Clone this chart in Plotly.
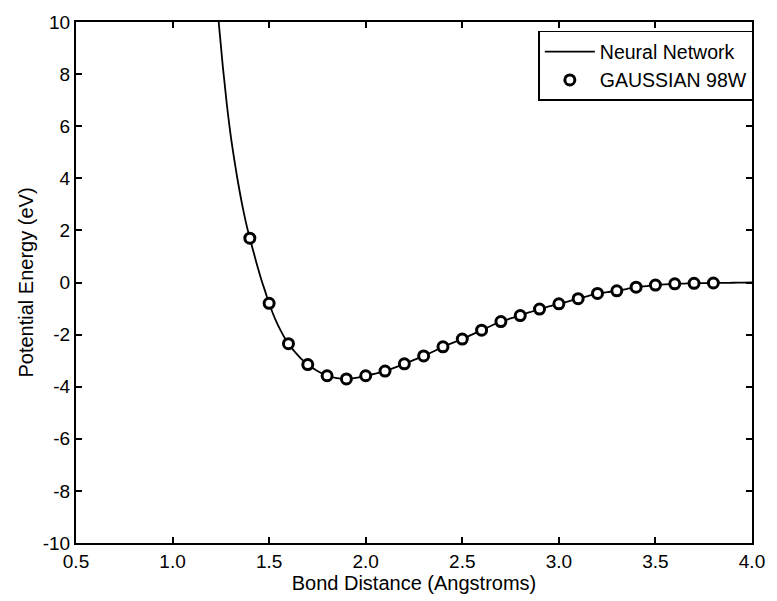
import plotly.graph_objects as go

# Neural network curve
nn_x = [1.22, 1.24, 1.26, 1.28, 1.30, 1.32, 1.34, 1.36, 1.38, 1.40,
        1.42, 1.44, 1.46, 1.48, 1.50, 1.52, 1.54, 1.56, 1.58, 1.60,
        1.62, 1.64, 1.66, 1.68, 1.70, 1.75, 1.80, 1.85, 1.90, 1.95,
        2.00, 2.05, 2.10, 2.15, 2.20, 2.25, 2.30, 2.35, 2.40, 2.45,
        2.50, 2.55, 2.60, 2.65, 2.70, 2.75, 2.80, 2.85, 2.90, 2.95,
        3.00, 3.05, 3.10, 3.15, 3.20, 3.25, 3.30, 3.35, 3.40, 3.45,
        3.50, 3.55, 3.60, 3.65, 3.70, 3.75, 3.80, 3.85, 3.90, 3.95, 4.00]
nn_y = [11.7, 9.9, 8.3, 6.9, 5.7, 4.7, 3.8, 3.0, 2.3, 1.7,
        1.15, 0.6, 0.1, -0.35, -0.8, -1.2, -1.55, -1.85, -2.12, -2.35,
        -2.55, -2.72, -2.88, -3.02, -3.15, -3.40, -3.58, -3.67, -3.70, -3.66,
        -3.58, -3.50, -3.40, -3.27, -3.12, -2.97, -2.82, -2.65, -2.47, -2.32,
        -2.17, -2.00, -1.83, -1.66, -1.50, -1.38, -1.27, -1.14, -1.02, -0.92,
        -0.82, -0.72, -0.62, -0.52, -0.42, -0.37, -0.32, -0.25, -0.18, -0.14,
        -0.10, -0.07, -0.05, -0.04, -0.03, -0.025, -0.02, -0.015, -0.01, -0.005, 0.0]

# GAUSSIAN 98W points
g_x = [1.4, 1.5, 1.6, 1.7, 1.8, 1.9, 2.0, 2.1, 2.2, 2.3, 2.4, 2.5, 2.6,
       2.7, 2.8, 2.9, 3.0, 3.1, 3.2, 3.3, 3.4, 3.5, 3.6, 3.7, 3.8]
g_y = [1.7, -0.8, -2.35, -3.15, -3.58, -3.70, -3.58, -3.40, -3.12, -2.82,
       -2.47, -2.17, -1.83, -1.50, -1.27, -1.02, -0.82, -0.62, -0.42, -0.32,
       -0.18, -0.10, -0.05, -0.03, -0.02]

x_ticks = [0.5, 1.0, 1.5, 2.0, 2.5, 3.0, 3.5, 4.0]
x_tick_text = ["0.5", "1.0", "1.5", "2.0", "2.5", "3.0", "3.5", "4.0"]
y_ticks = [-10, -8, -6, -4, -2, 0, 2, 4, 6, 8, 10]
y_tick_text = ["-10", "-8", "-6", "-4", "-2", "0", "2", "4", "6", "8", "10"]

FONT = "Liberation Sans, Arial, sans-serif"

fig = go.Figure()
fig.add_trace(go.Scatter(x=nn_x, y=nn_y, mode="lines", name="Neural Network",
                         line=dict(color="black", width=1.8, shape="spline")))
fig.add_trace(go.Scatter(x=g_x, y=g_y, mode="markers", name="GAUSSIAN 98W",
                         marker=dict(symbol="circle", size=10, color="white",
                                     line=dict(color="black", width=3))))

axis_common = dict(showgrid=False, zeroline=False, showline=True, linecolor="black",
                   linewidth=2, mirror="ticks", ticks="inside", ticklen=6,
                   tickwidth=1.5, tickcolor="black",
                   tickfont=dict(family=FONT, size=19, color="black"))

fig.update_layout(
    width=777, height=601,
    margin=dict(l=76, r=16, t=22, b=58),
    paper_bgcolor="white", plot_bgcolor="white",
    font=dict(family=FONT, color="black"),
    xaxis=dict(range=[0.5, 4.0], tickvals=x_ticks, ticktext=x_tick_text,
               title=dict(text="Bond Distance (Angstroms)", font=dict(family=FONT, size=20), standoff=2),
               **axis_common),
    yaxis=dict(range=[-10, 10], tickvals=y_ticks, ticktext=y_tick_text,
               title=dict(text="Potential Energy (eV)", font=dict(family=FONT, size=20), standoff=4),
               **axis_common),
    legend=dict(x=1.002, y=0.983, xanchor="right", yanchor="top",
                bordercolor="black", borderwidth=1.5, bgcolor="white",
                font=dict(family=FONT, size=19.5, color="black"),
                tracegroupgap=0, itemwidth=50),
    showlegend=True,
)

fig.write_html("out.html")
